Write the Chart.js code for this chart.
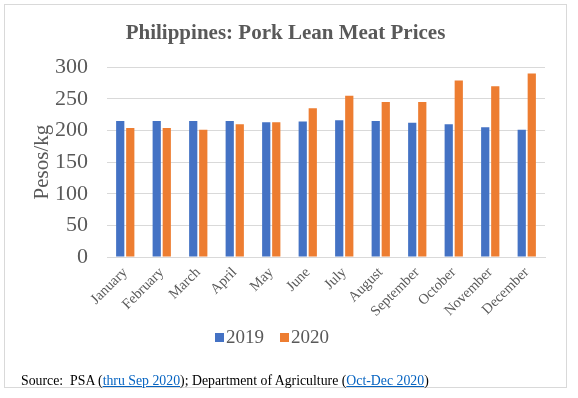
<!DOCTYPE html>
<html>
<head>
<meta charset="utf-8">
<script src="https://cdn.jsdelivr.net/npm/chart.js@4/dist/chart.umd.min.js"></script>
<style>
  html, body { margin: 0; padding: 0; background: #fff; }
  #wrap { position: relative; width: 578px; height: 398px; }
  #frame { position: absolute; left: 4px; top: 4px; width: 563px; height: 384px; border: 1px solid #d9d9d9; box-sizing: border-box; pointer-events: none; }
  #legend { position: absolute; left: 215px; top: 326px; font: 19px "Liberation Serif", "Times New Roman", serif; color: #595959; white-space: nowrap; line-height: 22px; }
  #legend span.item { display: inline-block; margin-right: 16px; }
  #legend i { display: inline-block; width: 9px; height: 9px; margin-right: 2px; vertical-align: 1px; }
  #source { position: absolute; left: 21px; top: 373px; font: 13.8px "Liberation Serif", "Times New Roman", serif; color: #000; white-space: pre; }
  #source a { color: #0563c1; text-decoration: underline; }
</style>
</head>
<body>
<div id="wrap">
  <canvas id="c" width="578" height="398"></canvas>
  <div id="frame"></div>
  <div id="legend"></div>
  <div id="source">Source:  PSA (<a href="#">thru Sep 2020</a>); Department of Agriculture (<a href="#">Oct-Dec 2020</a>)</div>
</div>
<script>
/* Philippines pork lean meat prices, 2019 vs 2020 */

const months = ['January', 'February', 'March', 'April', 'May', 'June', 'July', 'August', 'September', 'October', 'November', 'December'];
const prices2019 = [215, 215, 215, 215, 213, 214, 216, 215, 212, 210, 205, 201];
const prices2020 = [204, 204, 201, 210, 213, 235, 255, 245, 245, 279, 270, 290];

const serif = '"Liberation Serif", "Times New Roman", serif';
const grey = '#595959';

const chart = new Chart(document.getElementById('c'), {
  type: 'bar',
  data: {
    labels: months,
    datasets: [
      { label: '2019', data: prices2019, backgroundColor: '#4472c4', categoryPercentage: 0.55, barPercentage: 0.82 },
      { label: '2020', data: prices2020, backgroundColor: '#ed7d31', categoryPercentage: 0.55, barPercentage: 0.82 },
    ]
  },
  options: {
    responsive: false,
    animation: false,
    layout: { padding: { left: 26, right: 33, top: 0, bottom: 78 } },
    plugins: {
      title: {
        display: true,
        text: 'Philippines: Pork Lean Meat Prices',
        color: grey,
        font: { family: serif, size: 21, weight: 'bold' },
        padding: { top: 21, bottom: 21 }
      },
      legend: { display: false },
      tooltip: { enabled: false }
    },
    scales: {
      x: {
        grid: { display: false, drawTicks: false },
        border: { color: '#d9d9d9' },
        ticks: { color: grey, font: { family: serif, size: 14.5 }, minRotation: 45, maxRotation: 45, padding: 7 },
        afterFit: s => { s.height = 63; }
      },
      y: {
        min: 0, max: 300,
        grid: { color: '#d9d9d9', drawTicks: false },
        border: { display: false },
        ticks: { stepSize: 50, color: grey, font: { family: serif, size: 22 }, padding: 19 },
        title: { display: true, text: 'Pesos/kg', color: grey, font: { family: serif, size: 21 } },
        afterFit: s => { s.width = 81; }
      }
    }
  }
});

// legend as text, built from the datasets
document.getElementById('legend').innerHTML = chart.data.datasets.map(d =>
  `<span class="item"><i style="background:${d.backgroundColor}"></i>${d.label}</span>`).join('');
</script>
</body>
</html>
